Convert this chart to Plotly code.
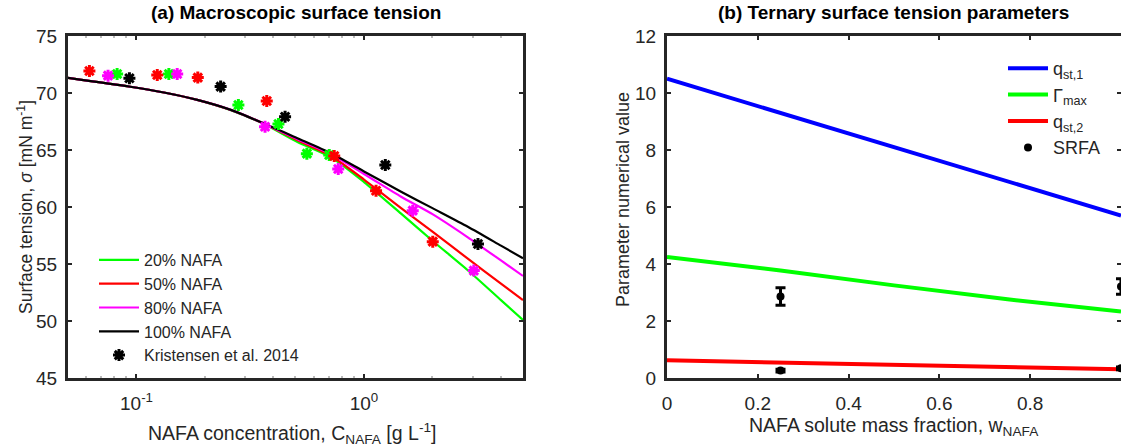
import plotly.graph_objects as go

# ---- panel (a): macroscopic surface tension ----
conc = [0.05, 0.094, 0.132, 0.185, 0.26, 0.364, 0.51, 0.716, 1.0, 1.456, 2.0, 2.86, 4.0, 5.0]
sigma_20 = [71.33, 70.55, 70.04, 69.4, 68.5, 67.28, 65.7, 64.36, 62.19, 59.42, 57.04, 54.45, 51.83, 50.09]
sigma_50 = [71.33, 70.55, 70.04, 69.4, 68.51, 67.3, 65.85, 64.47, 62.41, 59.91, 57.83, 55.47, 53.28, 51.84]
sigma_80 = [71.33, 70.55, 70.04, 69.4, 68.52, 67.31, 65.95, 64.62, 62.9, 60.9, 59.37, 57.34, 55.31, 53.95]
sigma_100 = [71.33, 70.55, 70.04, 69.4, 68.52, 67.32, 66.03, 64.71, 63.12, 61.34, 59.9, 58.27, 56.61, 55.5]

obs20_c = [0.0822, 0.1388, 0.2805, 0.4207, 0.561, 0.7036]
obs20_s = [71.67, 71.67, 68.95, 67.28, 64.68, 64.56]
obs50_c = [0.0621, 0.1234, 0.186, 0.3738, 0.740, 1.13, 2.006]
obs50_s = [71.93, 71.58, 71.35, 69.30, 64.47, 61.43, 56.96]
obs80_c = [0.075, 0.151, 0.3674, 0.7705, 1.638, 3.04]
obs80_s = [71.52, 71.67, 67.04, 63.33, 59.68, 54.42]
obs100_c = [0.0931, 0.2344, 0.450, 1.241, 3.17]
obs100_s = [71.29, 70.56, 67.92, 63.68, 56.75]

# ---- panel (b): ternary parameters ----
w_nafa = [0.0, 0.25, 0.5, 0.75, 1.0]
q_st1 = [10.5, 9.3, 8.1, 6.9, 5.7]
gamma_max = [4.25, 3.77, 3.25, 2.76, 2.33]
q_st2 = [0.62, 0.54, 0.47, 0.39, 0.31]

srfa_w = [0.25, 0.25, 1.0, 1.0]
srfa_val = [2.86, 0.26, 3.21, 0.34]
srfa_err = [0.31, 0.05, 0.27, 0.05]

FONT = "Liberation Sans, Arial, Helvetica, sans-serif"
AX = "#262626"

fig = go.Figure()

curves = [("20% NAFA", sigma_20, "#00ff00"), ("50% NAFA", sigma_50, "#ff0000"),
          ("80% NAFA", sigma_80, "#ff00ff"), ("100% NAFA", sigma_100, "#000000")]
for i, (name, ys, col) in enumerate(curves):
    fig.add_trace(go.Scatter(x=conc, y=ys, mode="lines", name=name, legendrank=i + 1,
                             line=dict(color=col, width=2.2, shape="spline", smoothing=0.7),
                             xaxis="x", yaxis="y", legend="legend"))

obs = [(obs20_c, obs20_s, "#00ff00"), (obs50_c, obs50_s, "#ff0000"),
       (obs80_c, obs80_s, "#ff00ff"), (obs100_c, obs100_s, "#000000")]
for cs, ss, col in obs:
    black = col == "#000000"
    fig.add_trace(go.Scatter(x=cs, y=ss, mode="markers",
                             name="Kristensen et al. 2014" if black else "",
                             showlegend=black, legendrank=5,
                             marker=dict(symbol="asterisk-open", size=10, color=col,
                                         line=dict(color=col, width=3)),
                             xaxis="x", yaxis="y", legend="legend"))

params = [("q<sub>st,1</sub>", q_st1, "#0000ff"), ("Γ<sub>max</sub>", gamma_max, "#00ff00"),
          ("q<sub>st,2</sub>", q_st2, "#ff0000")]
for i, (name, ys, col) in enumerate(params):
    fig.add_trace(go.Scatter(x=w_nafa, y=ys, mode="lines", name=name, legendrank=i + 1,
                             line=dict(color=col, width=4),
                             xaxis="x2", yaxis="y2", legend="legend2"))

fig.add_trace(go.Scatter(x=srfa_w, y=srfa_val, mode="markers", name="SRFA", legendrank=4,
                         marker=dict(symbol="circle", size=8, color="black"),
                         error_y=dict(type="data", array=srfa_err, color="black",
                                      thickness=3, width=5),
                         cliponaxis=False,
                         xaxis="x2", yaxis="y2", legend="legend2"))

tickfont = dict(family=FONT, size=19, color=AX)
common = dict(showline=True, linecolor=AX, linewidth=3, mirror="allticks",
              ticks="inside", tickcolor=AX, ticklen=4, tickwidth=2,
              showgrid=False, zeroline=False, tickfont=tickfont)

minor_c = [0.05, 0.06, 0.07, 0.08, 0.09, 0.2, 0.3, 0.4, 0.5, 0.6, 0.7, 0.8, 0.9, 2, 3, 4, 5]

fig.update_layout(
    template="none",
    width=1121, height=447,
    margin=dict(l=0, r=0, t=0, b=0),
    paper_bgcolor="white", plot_bgcolor="white",
    font=dict(family=FONT, size=17, color=AX),
    xaxis=dict(domain=[68 / 1121, 523 / 1121], type="log", range=[-1.301, 0.699],
               tickvals=[0.1, 1], ticktext=["10<sup>-1</sup>", "10<sup>0</sup>"],
               ticklabelstandoff=6,
               minor=dict(tickvals=minor_c, ticks="inside", ticklen=2, tickcolor="#bbbbbb"),
               anchor="y", **common),
    yaxis=dict(domain=[69 / 447, 411 / 447], range=[45, 75], tickvals=[45, 50, 55, 60, 65, 70, 75],
               ticklabelstandoff=4, anchor="x", **common),
    xaxis2=dict(domain=[667 / 1121, 1.0], range=[0, 1], tickvals=[0, 0.2, 0.4, 0.6, 0.8, 1],
                ticktext=["0", "0.2", "0.4", "0.6", "0.8", "1"], ticklabelstandoff=6,
                anchor="y2", **common),
    yaxis2=dict(domain=[69 / 447, 411 / 447], range=[0, 12], tickvals=[0, 2, 4, 6, 8, 10, 12],
                ticklabelstandoff=4, anchor="x2", **common),
    legend=dict(x=94 / 1121, y=(447 - 243) / 447, xanchor="left", yanchor="top",
                bgcolor="rgba(0,0,0,0)", font=dict(family=FONT, size=16, color=AX),
                tracegroupgap=0, itemwidth=40, traceorder="normal"),
    legend2=dict(x=1003 / 1121, y=(447 - 50) / 447, xanchor="left", yanchor="top",
                 bgcolor="rgba(0,0,0,0)", font=dict(family=FONT, size=18, color=AX),
                 itemwidth=40, traceorder="normal"),
    showlegend=True,
)

ann = [
    dict(text="<b>(a) Macroscopic surface tension</b>", x=296 / 1121, y=1 - 13 / 447, size=19, angle=0),
    dict(text="<b>(b) Ternary surface tension parameters</b>", x=893 / 1121, y=1 - 13 / 447, size=19, angle=0),
    dict(text="NAFA concentration, C<sub>NAFA</sub> [g L<sup>-1</sup>]", x=292 / 1121, y=1 - 433 / 447, size=19.5, angle=0),
    dict(text="Surface tension, <i>σ</i> [mN m<sup>-1</sup>]", x=25 / 1121, y=1 - 207 / 447, size=17.5, angle=-90),
    dict(text="NAFA solute mass fraction, w<sub>NAFA</sub>", x=894 / 1121, y=1 - 426 / 447, size=19.5, angle=0),
    dict(text="Parameter numerical value", x=623 / 1121, y=1 - 200 / 447, size=18, angle=-90),
]
for a in ann:
    fig.add_annotation(text=a["text"], x=a["x"], y=a["y"], xref="paper", yref="paper",
                       xanchor="center", yanchor="middle", showarrow=False, textangle=a["angle"],
                       font=dict(family=FONT, size=a["size"], color="#000000" if "<b>" in a["text"] else AX))

# the page body has a default 8px margin; drop it so the figure sits at the window origin
fig.write_html("out.html", config={"displayModeBar": False},
               post_script="document.body.style.margin='0px';document.body.style.overflow='hidden';")
